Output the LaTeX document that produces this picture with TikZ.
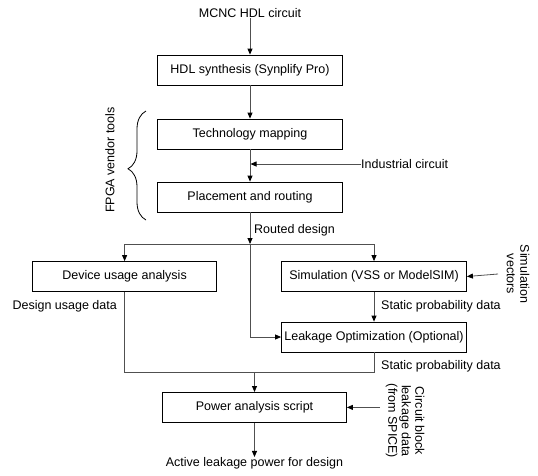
\documentclass[tikz,border=0pt]{standalone}
\usepackage{fontspec}
\setmainfont{Liberation Sans}
\usetikzlibrary{arrows.meta,decorations.pathreplacing}
\definecolor{linegray}{HTML}{505050}
\begin{document}
\begin{tikzpicture}[x=1pt,y=-1pt,
  every node/.style={font=\fontsize{12.5}{13.5}\selectfont, inner sep=0pt},
  box/.style={draw=black, line width=0.8pt, minimum width=185pt, minimum height=30pt},
  conn/.style={draw=linegray, line width=0.8pt},
  arr/.style={conn, -{Triangle[length=6pt,width=5pt,color=black]}}]
\useasboundingbox (0,0) rectangle (538,475);

% text nodes and boxes
\node (mcnc) at (250,13) {MCNC HDL circuit};
\node[box] (hdl) at (250,70) {HDL synthesis (Synplify Pro)};
\node[box] (tech) at (250,134) {Technology mapping};
\node[box] (place) at (250,197) {Placement and routing};
\node[anchor=west] (ind) at (361,164) {Industrial circuit};
\node[anchor=west] (routed) at (254,230) {Routed design};
\node[box, minimum width=184pt] (dev) at (124.6,276.5) {Device usage analysis};
\node[box] (sim) at (374,276.5) {Simulation (VSS or ModelSIM)};
\node[rotate=-90, align=center] (simvec) at (518,274) {Simulation\\vectors};
\node[anchor=east] (dud) at (117,306) {Design usage data};
\node[anchor=west] (spd1) at (381,306) {Static probability data};
\node[box] (leak) at (374,337) {Leakage Optimization (Optional)};
\node[anchor=west] (spd2) at (381,366) {Static probability data};
\node[box, minimum width=184pt] (power) at (254.5,407.4) {Power analysis script};
\node[rotate=-90, align=center] (cbl) at (405,421) {Circuit block\\leakage data\\(from SPICE)};
\node (active) at (254.5,463) {Active leakage power for design};
\node[rotate=90] (fpga) at (110,160) {FPGA vendor tools};

% brace
\draw[line width=0.8pt, decorate, decoration={brace, amplitude=18pt, aspect=0.47}]
  (146,220) -- (146,111);

% coordinates
\coordinate (indtip) at (tech.south |- ind.west);
\coordinate (br) at (250,244);
\coordinate (jr) at (leak.south |- 0,372);
\coordinate (jp) at (power.north |- 0,372);
\coordinate (cbt) at (380,407.4);

% connectors
\draw[arr] (mcnc) -- (hdl);
\draw[arr] (hdl) -- (tech);
\draw[arr] (tech) -- (place);
\draw[arr] (ind.west) -- ([xshift=0.5pt]indtip);
\draw[arr] (place) -- (br);
\draw[arr] (br) -| (dev.north);
\draw[arr] (br) -| (sim.north);
\draw[arr] (br) |- (leak.west);
\draw[arr] (simvec.north -| 498,0) -- (sim.east);
\draw[arr] (sim) -- (leak);
\draw[conn] (dev.south) |- (jr) -- (leak.south);
\draw[arr] (jp) -- (power.north);
\draw[arr] (cbt) -- (power.east);
\draw[arr] (power) -- (active);
\end{tikzpicture}
\end{document}
